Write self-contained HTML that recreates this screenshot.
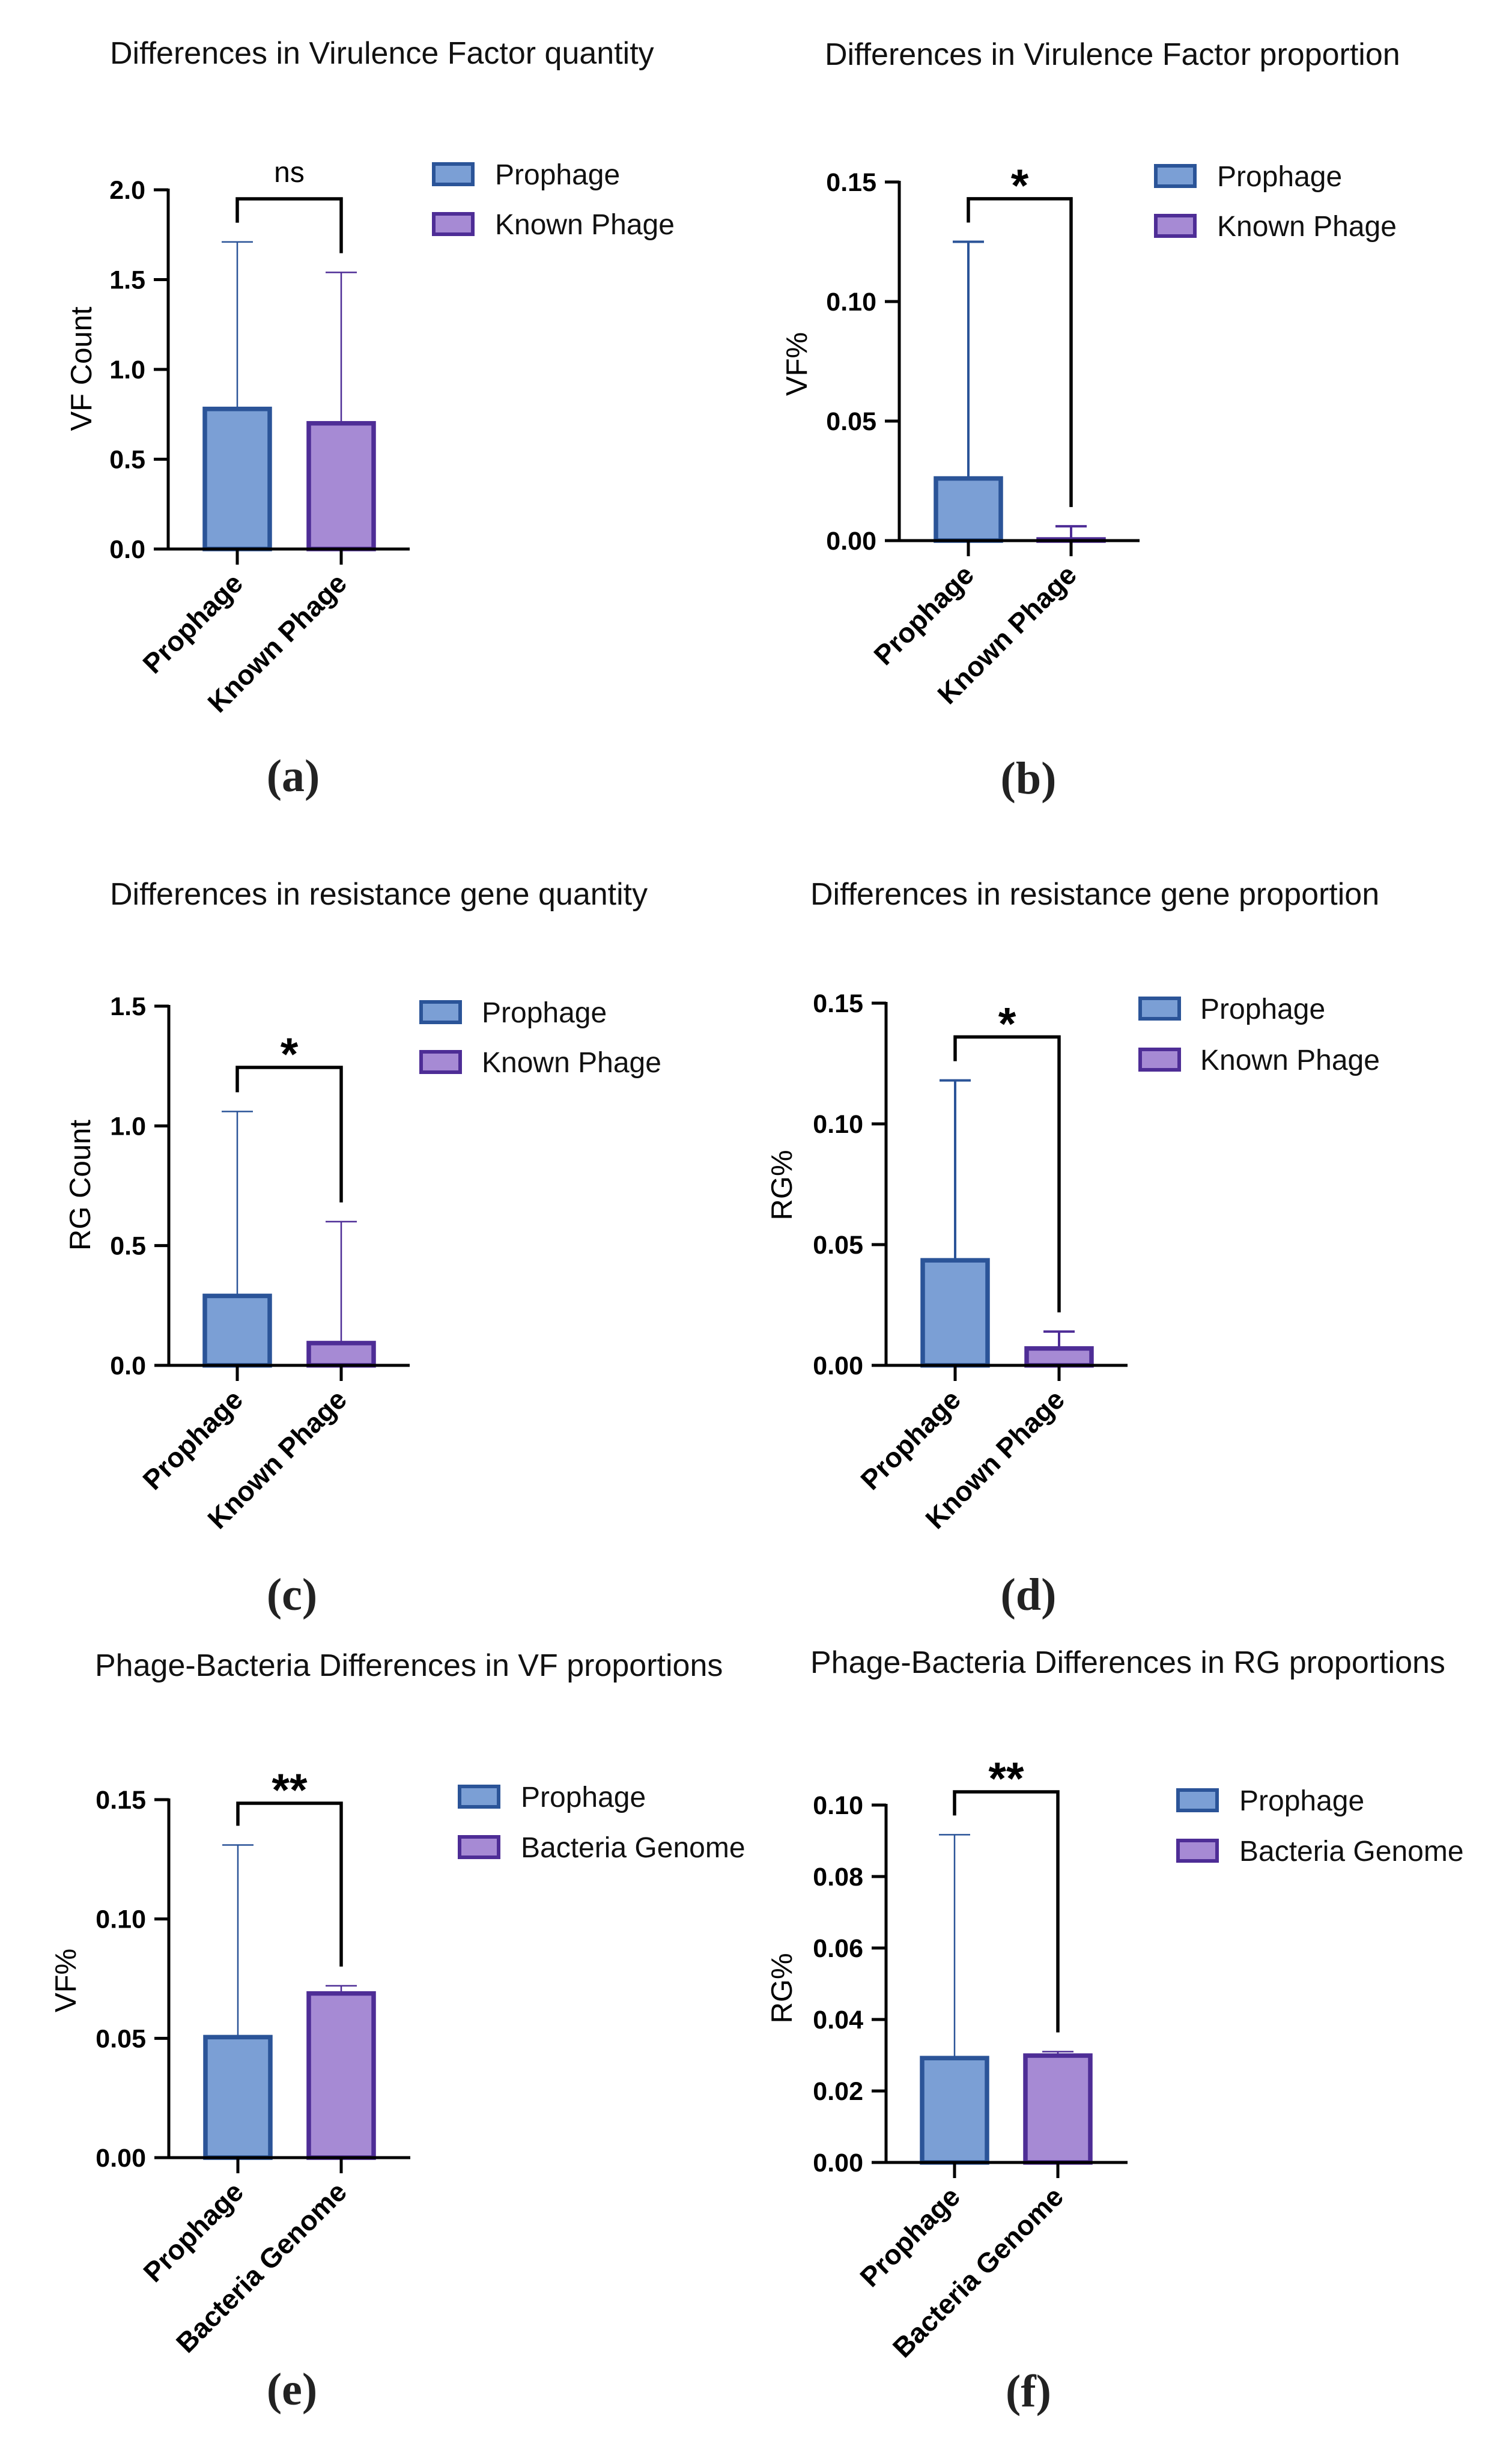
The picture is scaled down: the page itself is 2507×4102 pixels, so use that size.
<!DOCTYPE html>
<html><head><meta charset="utf-8">
<style>
html,body{margin:0;padding:0;background:#fff;}
svg{display:block;}
</style></head>
<body>
<svg id="fig" width="2507" height="4102" viewBox="0 0 2507 4102" xmlns="http://www.w3.org/2000/svg"></svg>
<script>
// ---- data ----
const catsA = ["Prophage", "Known Phage"];
const meansA = [0.78, 0.70];
const errsA = [1.71, 1.54];
const ticksA = [0, 0.5, 1.0, 1.5, 2.0];
const tickLabelsA = ["0.0", "0.5", "1.0", "1.5", "2.0"];

const catsB = ["Prophage", "Known Phage"];
const meansB = [0.026, 0.0005];
const errsB = [0.125, 0.006];
const ticksB = [0, 0.05, 0.10, 0.15];
const tickLabelsB = ["0.00", "0.05", "0.10", "0.15"];

const catsC = ["Prophage", "Known Phage"];
const meansC = [0.29, 0.093];
const errsC = [1.06, 0.60];
const ticksC = [0, 0.5, 1.0, 1.5];
const tickLabelsC = ["0.0", "0.5", "1.0", "1.5"];

const catsD = ["Prophage", "Known Phage"];
const meansD = [0.0435, 0.007];
const errsD = [0.118, 0.014];
const ticksD = [0, 0.05, 0.10, 0.15];
const tickLabelsD = ["0.00", "0.05", "0.10", "0.15"];

const catsE = ["Prophage", "Bacteria Genome"];
const meansE = [0.0505, 0.0688];
const errsE = [0.131, 0.072];
const ticksE = [0, 0.05, 0.10, 0.15];
const tickLabelsE = ["0.00", "0.05", "0.10", "0.15"];

const catsF = ["Prophage", "Bacteria Genome"];
const meansF = [0.0292, 0.0299];
const errsF = [0.0917, 0.031];
const ticksF = [0, 0.02, 0.04, 0.06, 0.08, 0.10];
const tickLabelsF = ["0.00", "0.02", "0.04", "0.06", "0.08", "0.10"];

const bracketValues = [1.950, 0.143, 1.244, 0.136, 0.1485, 0.1037];
const sigLabels = ["ns", "*", "*", "*", "**", "**"];
const titles = ["Differences in Virulence Factor quantity","Differences in Virulence Factor proportion","Differences in resistance gene quantity","Differences in resistance gene proportion","Phage-Bacteria Differences in VF proportions","Phage-Bacteria Differences in RG proportions"];
const yTitles = ["VF Count","VF%","RG Count","RG%","VF%","RG%"];
const panelLetters = ["(a)","(b)","(c)","(d)","(e)","(f)"];

// ---- layout (pixels) ----
const layouts = [
 {ax:280,y0:914,yTop:316,xEnd:682,cx:[395,568],tx:183,ty:106,ylx:135,yly:614,lx:719,ly:[270,353],ltx:824,px:488,py:1317},
 {ax:1497,y0:900,yTop:303,xEnd:1897,cx:[1612,1783],tx:1373,ty:108,ylx:1326,yly:606,lx:1921,ly:[273,356],ltx:2026,px:1712,py:1321},
 {ax:281,y0:2273,yTop:1675,xEnd:682,cx:[395,568],tx:183,ty:1506,ylx:133,yly:1973,lx:698,ly:[1665,1748],ltx:802,px:486,py:2680},
 {ax:1475,y0:2273,yTop:1670,xEnd:1877,cx:[1590,1763],tx:1349,ty:1506,ylx:1301,yly:1973,lx:1895,ly:[1659,1744],ltx:1998,px:1712,py:2680},
 {ax:281,y0:3592,yTop:2996,xEnd:683,cx:[396,568],tx:158,ty:2790,ylx:109,yly:3297,lx:762,ly:[2971,3055],ltx:867,px:486,py:4003},
 {ax:1475,y0:3600,yTop:3005,xEnd:1877,cx:[1589,1761],tx:1349,ty:2785,ylx:1301,yly:3310,lx:1958,ly:[2977,3061],ltx:2063,px:1712,py:4006}
];
const panelsData = [
 [catsA,meansA,errsA,ticksA,tickLabelsA],
 [catsB,meansB,errsB,ticksB,tickLabelsB],
 [catsC,meansC,errsC,ticksC,tickLabelsC],
 [catsD,meansD,errsD,ticksD,tickLabelsD],
 [catsE,meansE,errsE,ticksE,tickLabelsE],
 [catsF,meansF,errsF,ticksF,tickLabelsF]
];
const fills = ["#7b9fd5","#a68ad4"];
const strokes = ["#2b5498","#4e2d96"];

const NS = "http://www.w3.org/2000/svg";
const svg = document.getElementById("fig");
function mk(tag, attrs, parent, text){
  const e = document.createElementNS(NS, tag);
  for (const k in attrs) e.setAttribute(k, attrs[k]);
  if (text !== undefined) e.textContent = text;
  (parent || svg).appendChild(e);
  return e;
}
const SANS = '"Liberation Sans", Arial, sans-serif';
const SERIF = '"Liberation Serif", "Times New Roman", serif';

panelsData.forEach((pd, i) => {
  const [cats, means, errs, ticks, tlabels] = pd;
  const L = layouts[i];
  const yMax = ticks[ticks.length-1];
  const y = v => L.y0 - (v / yMax) * (L.y0 - L.yTop);
  const g = mk("g", {});
  
  

  const t = mk("text", {x:L.tx, y:L.ty, "font-family":SANS, "font-size":52, fill:"#111"}, g, titles[i]);
  
  

  // bars + errors
  cats.forEach((c, j) => {
    const cx = L.cx[j], w = 108;
    const top = y(means[j]);
    const sw = (i===1||i===3) ? 4 : 2.5;
    const eb = mk("line", {x1:cx, x2:cx, y1:y(errs[j]), y2:top, stroke:strokes[j], "stroke-width": sw}, g);
    
    
    const cap = mk("line", {x1:cx-26, x2:cx+26, y1:y(errs[j]), y2:y(errs[j]), stroke:strokes[j], "stroke-width": sw}, g);
    
    
    const h = Math.max(L.y0 - top, 0);
    const r = mk("rect", {x:cx-w/2, y:top, width:w, height:h, fill:fills[j], stroke:strokes[j], "stroke-width":7.5}, g);
    
    
  });

  // axes
  const yaxis = mk("line", {x1:L.ax, x2:L.ax, y1:L.yTop-2, y2:L.y0+2.5, stroke:"#000", "stroke-width":5}, g);
  
  
  const xaxis = mk("line", {x1:L.ax-2.5, x2:L.xEnd, y1:L.y0, y2:L.y0, stroke:"#000", "stroke-width":5}, g);
  
  
  ticks.forEach((v, k) => {
    const ty = y(v);
    const tk = mk("line", {x1:L.ax-24, x2:L.ax, y1:ty, y2:ty, stroke:"#000", "stroke-width":5}, g);
    
    
    const tl = mk("text", {x:L.ax-38, y:ty+15, "text-anchor":"end", "font-family":SANS, "font-weight":"bold", "font-size":43, fill:"#000"}, g, tlabels[k]);
    
    
  });
  cats.forEach((c, j) => {
    const cx = L.cx[j];
    const tk = mk("line", {x1:cx, x2:cx, y1:L.y0, y2:L.y0+26, stroke:"#000", "stroke-width":5}, g);
    
    
    const ax = cx + 12, ay = L.y0 + 60;
    const tl = mk("text", {x:ax, y:ay, "text-anchor":"end", transform:`rotate(-45 ${ax} ${ay})`, "font-family":SANS, "font-weight":"bold", "font-size":46, fill:"#000"}, g, c);
    
    
  });
  const yt = mk("text", {x:L.ylx, y:L.yly, "text-anchor":"middle", transform:`rotate(-90 ${L.ylx} ${L.yly})`, dy:17, "font-family":SANS, "font-size":49, fill:"#000"}, g, yTitles[i]);
  
  

  // significance bracket
  const by = y(bracketValues[i]);
  const l1 = y(errs[0]) - 32, l2 = y(errs[1]) - 32;
  const br = mk("path", {d:`M${L.cx[0]} ${l1} L${L.cx[0]} ${by} L${L.cx[1]} ${by} L${L.cx[1]} ${l2}`, fill:"none", stroke:"#000", "stroke-width":5.5}, g);
  
  
  const mid = (L.cx[0] + L.cx[1]) / 2;
  const isStar = sigLabels[i] !== "ns";
  const sl = mk("text", {x:mid, y: isStar ? by + 4 : by - 28, "text-anchor":"middle", "font-family":SANS, "font-weight": isStar ? "bold" : "normal", "font-size": isStar ? 76 : 48, fill:"#000"}, g, sigLabels[i]);
  
  

  // legend
  cats.forEach((c, j) => {
    const sq = mk("rect", {x:L.lx+3, y:L.ly[j]+3, width:65, height:34, fill:fills[j], stroke:strokes[j], "stroke-width":6}, g);
    
    
    const lt = mk("text", {x:L.ltx, y:L.ly[j]+37, "font-family":SANS, "font-size":48, fill:"#111"}, g, c);
    
    
  });

  const pl = mk("text", {x:L.px, y:L.py, "text-anchor":"middle", "font-family":SERIF, "font-weight":"bold", "font-size":76, fill:"#222"}, g, panelLetters[i]);
  
  
});
</script>
</body></html>
